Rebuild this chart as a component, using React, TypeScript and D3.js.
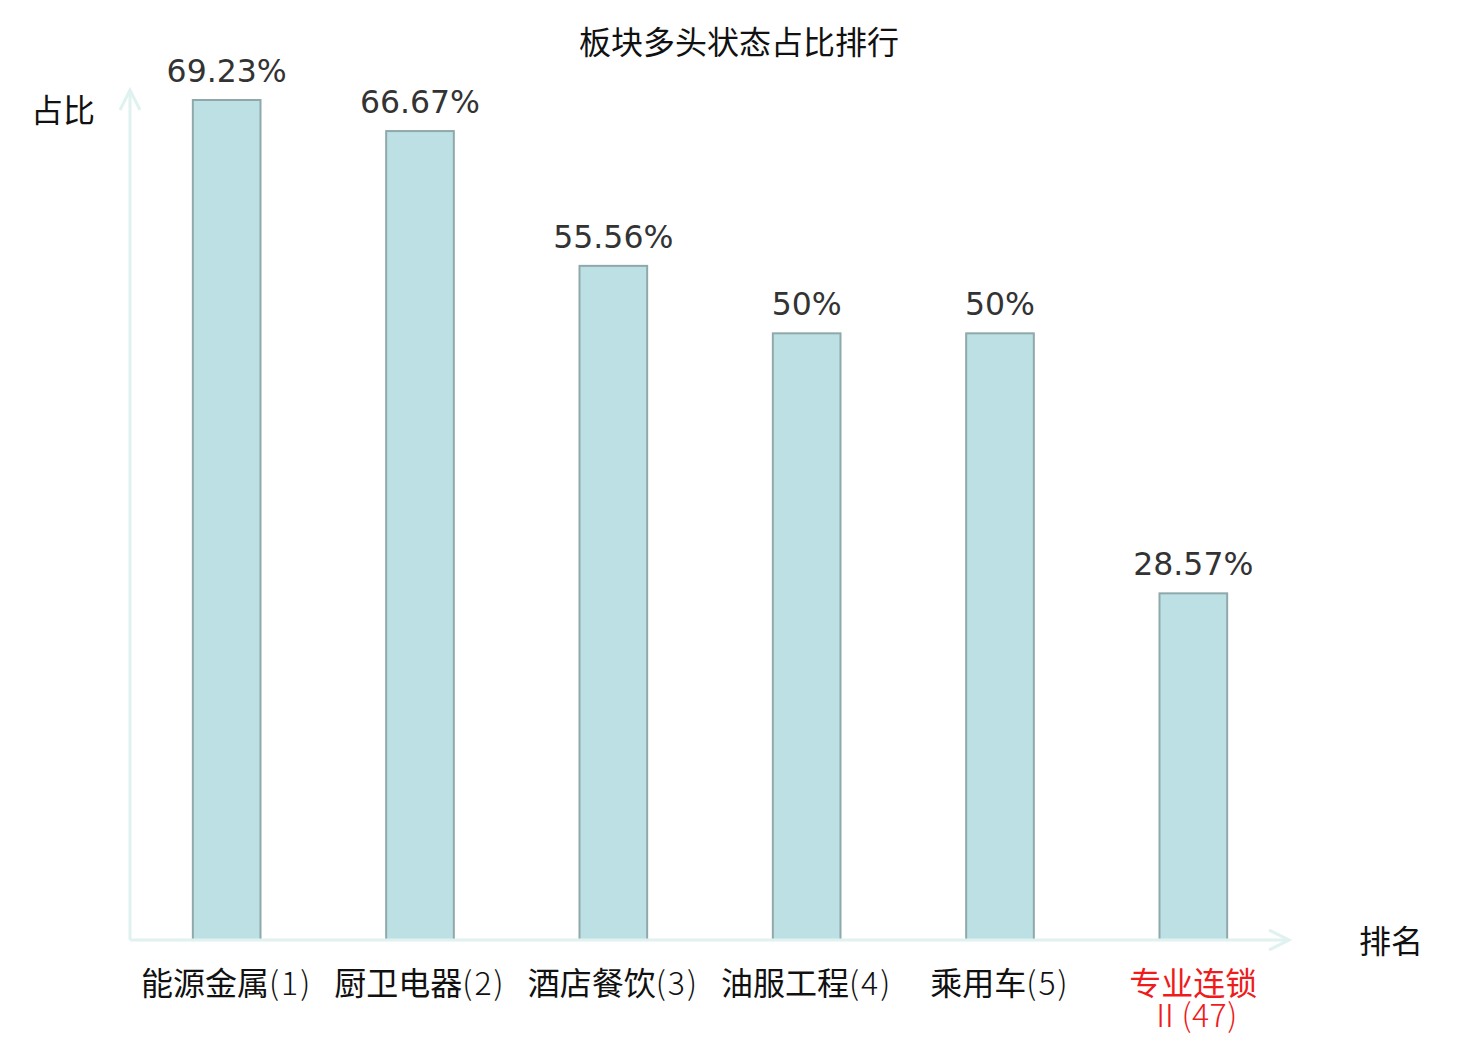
import React from "react";
import * as d3 from "d3";

const title = "板块多头状态占比排行";
const categories = ["能源金属(1)", "厨卫电器(2)", "酒店餐饮(3)", "油服工程(4)", "乘用车(5)", "专业连锁\nⅡ(47)"];
const values = [69.23, 66.67, 55.56, 50, 50, 28.57];
const valueLabels = ["69.23%", "66.67%", "55.56%", "50%", "50%", "28.57%"];
const highlight = [false, false, false, false, false, true];
const yAxisName = "占比";
const xAxisName = "排名";

const W = 1480;
const H = 1040;
const originX = 130;
const originY = 940;
const xEnd = 1290;
const yTop = 89;

function splitLatin(line: string) {
  const parts: { t: string; latin: boolean }[] = [];
  const re = /([\u4e00-\u9fff]+)|([^\u4e00-\u9fff]+)/g;
  let m: RegExpExecArray | null;
  while ((m = re.exec(line))) {
    if (m[1]) parts.push({ t: m[1], latin: false });
    else parts.push({ t: m[2], latin: true });
  }
  return parts;
}

export default function App() {
  const x = d3.scaleBand<string>().domain(categories).range([originX, xEnd]).paddingInner(0.65).paddingOuter(0.325);
  const y = d3.scaleLinear().domain([0, d3.max(values) as number]).range([originY, 100]);
  const axisColor = "#dff2ef";
  const cjk = "'Noto Sans CJK SC', 'DejaVu Sans', sans-serif";
  const num = "'DejaVu Sans', sans-serif";
  return (
    <svg width={W} height={H} style={{ display: "block", position: "absolute", left: 0, top: 0, background: "#fff" }}>
      <text x={739} y={54} textAnchor="middle" fontFamily={cjk} fontSize={32} fill="#111">{title}</text>
      {categories.map((c, i) => {
        const bx = x(c) as number;
        const bw = x.bandwidth();
        const cx = bx + bw / 2;
        const top = y(values[i]);
        return (
          <g key={c}>
            <rect x={bx} y={top} width={bw} height={originY - top} fill="#bce0e3" stroke="#8fa9aa" strokeWidth={2} />
            <text x={cx} y={top - 18} textAnchor="middle" fontFamily={num} fontSize={31.5} fill="#333">{valueLabels[i]}</text>
            {c.split("\n").map((line, j) => (
              <text key={j} x={cx} y={995 + j * 32} textAnchor="middle" fontFamily={cjk} fontSize={32}
                fill={highlight[i] ? "#ee1c1c" : "#111"}>
                {splitLatin(line).map((p, k) => (
                  <tspan key={k} fontWeight={p.latin ? 300 : 400} letterSpacing={p.latin ? (j > 0 ? 0.5 : 2) : 0}>{p.t}</tspan>
                ))}
              </text>
            ))}
          </g>
        );
      })}
      <g stroke={axisColor} strokeWidth={3} fill="none" strokeLinecap="butt">
        <line x1={originX} y1={originY} x2={originX} y2={yTop + 1} />
        <polyline points={`${originX - 10},${yTop + 21} ${originX},${yTop + 1} ${originX + 10},${yTop + 21}`} />
        <line x1={originX} y1={originY} x2={xEnd - 1} y2={originY} />
        <polyline points={`${xEnd - 21},${originY - 10} ${xEnd - 1},${originY} ${xEnd - 21},${originY + 10}`} />
      </g>
      <text x={63} y={122} textAnchor="middle" fontFamily={cjk} fontSize={32} fill="#111">{yAxisName}</text>
      <text x={1391} y={953} textAnchor="middle" fontFamily={cjk} fontSize={32} fill="#111">{xAxisName}</text>
    </svg>
  );
}
